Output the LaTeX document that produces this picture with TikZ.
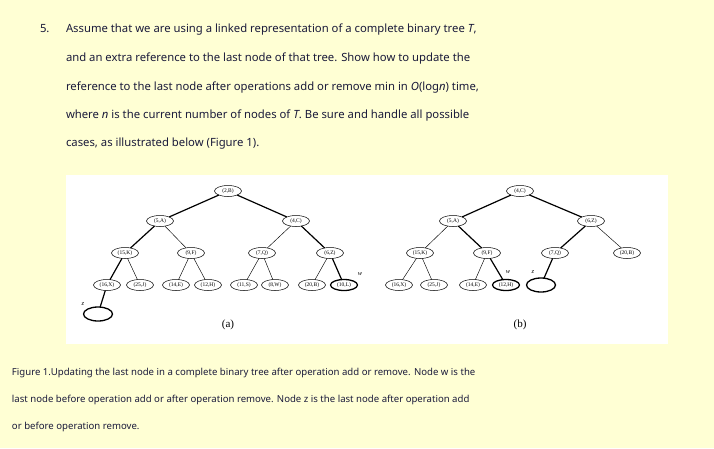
\documentclass[tikz,border=0pt]{standalone}
\usepackage{fontspec}
\setmainfont{Noto Sans}
\newfontfamily\treefont{Liberation Serif}
\usetikzlibrary{positioning,shapes.geometric}
\definecolor{pagebg}{HTML}{FFFFD4}
\definecolor{ink}{HTML}{1A1A3A}

\begin{document}
\begin{tikzpicture}[x=1pt,y=-1pt,inner sep=0pt,outer sep=0pt]
    \tikzset{key/.style={draw,ellipse,line width=0.5pt,minimum width=27pt,minimum height=11pt,font=\treefont\fontsize{5.5}{6}\selectfont}}
    \tikzset{last/.style={key,line width=1.3pt}}
    \tikzset{hole/.style={draw,ellipse,line width=1.3pt,minimum width=29pt,minimum height=14pt}}
    \tikzset{edge/.style={line width=0.45pt}}
    \tikzset{trail/.style={line width=1.2pt}}
    \tikzset{tag/.style={font=\treefont\itshape\fontsize{6.5}{7}\selectfont}}
    \tikzset{para/.style={anchor=base west,text=ink,font=\fontsize{11.3}{13}\selectfont}}
    \tikzset{capt/.style={anchor=base west,text=ink,font=\bfseries\fontsize{9.6}{11}\selectfont}}

    \fill[pagebg] (0,0) rectangle (714,448);
    \fill[white] (66,175) rectangle (668,344);

    % question text
    \node [para] (num) at (40,32) {5.};
    \node [para] (l1) at (66,32) {Assume that we are using a linked representation of a complete binary tree \textit{T},};
    \node [para] (l2) at (66,61) {and an extra reference to the last node of that tree. Show how to update the};
    \node [para] (l3) at (66,90) {reference to the last node after operations add or remove min in \textit{O}(log\textit{n}) time,};
    \node [para] (l4) at (66,118) {where \textit{n} is the current number of nodes of \textit{T}. Be sure and handle all possible};
    \node [para] (l5) at (66,146) {cases, as illustrated below (Figure 1).};

    % tree (a)
    \node [key] (a2B) at (228,191) {(2,B)};
    \node [key] (a5A) at (160,221) {(5,A)};
    \node [key] (a4C) at (296,221) {(4,C)};
    \node [key] (a15K) at (125,253) {(15,K)};
    \node [key] (a9F) at (191,253) {(9,F)};
    \node [key] (a7Q) at (262,253) {(7,Q)};
    \node [key] (a6Z) at (330,253) {(6,Z)};
    \node [key] (a16X) at (107,285) {(16,X)};
    \node [key] (a25J) at (140,285) {(25,J)};
    \node [key] (a14E) at (176,285) {(14,E)};
    \node [key] (a12H) at (208,285) {(12,H)};
    \node [key] (a11S) at (244,285) {(11,S)};
    \node [key] (a8W) at (275,285) {(8,W)};
    \node [key] (a20B) at (312,285) {(20,B)};
    \node [last] (a10L) at (344,285) {(10,L)};
    \node [hole] (az) at (98,314) {};
    \node [tag] (aw) at (360,274) {w};
    \node [tag] (azl) at (83,304) {z};
    \node [font=\treefont\fontsize{11}{12}\selectfont] (acap) at (228,325) {(a)};

    \draw [trail] (a2B) -- (a5A);
    \draw [trail] (a2B) -- (a4C);
    \draw [trail] (a5A) -- (a15K);
    \draw [edge] (a5A) -- (a9F);
    \draw [edge] (a4C) -- (a7Q);
    \draw [trail] (a4C) -- (a6Z);
    \draw [trail] (a15K) -- (a16X);
    \draw [edge] (a15K) -- (a25J);
    \draw [edge] (a9F) -- (a14E);
    \draw [edge] (a9F) -- (a12H);
    \draw [edge] (a7Q) -- (a11S);
    \draw [edge] (a7Q) -- (a8W);
    \draw [edge] (a6Z) -- (a20B);
    \draw [trail] (a6Z) -- (a10L);
    \draw [trail] (a16X) -- (az);

    % tree (b)
    \node [key] (b4C) at (520,191) {(4,C)};
    \node [key] (b5A) at (453,221) {(5,A)};
    \node [key] (b6Z) at (591,221) {(6,Z)};
    \node [key] (b15K) at (420,253) {(15,K)};
    \node [key] (b9F) at (487,253) {(9,F)};
    \node [key] (b7Q) at (555,253) {(7,Q)};
    \node [key] (b20B) at (627,253) {(20,B)};
    \node [key] (b16X) at (399,285) {(16,X)};
    \node [key] (b25J) at (434,285) {(25,J)};
    \node [key] (b14E) at (473,285) {(14,E)};
    \node [last] (b12H) at (506,285) {(12,H)};
    \node [hole] (bz) at (541,285) {};
    \node [tag] (bw) at (508,272) {w};
    \node [tag] (bzl) at (533,272) {z};
    \node [font=\treefont\fontsize{11}{12}\selectfont] (bcap) at (520,325) {(b)};

    \draw [trail] (b4C) -- (b5A);
    \draw [trail] (b4C) -- (b6Z);
    \draw [edge] (b5A) -- (b15K);
    \draw [trail] (b5A) -- (b9F);
    \draw [trail] (b6Z) -- (b7Q);
    \draw [edge] (b6Z) -- (b20B);
    \draw [edge] (b15K) -- (b16X);
    \draw [edge] (b15K) -- (b25J);
    \draw [edge] (b9F) -- (b14E);
    \draw [trail] (b9F) -- (b12H);
    \draw [trail] (b7Q) -- (bz);

    % caption
    \node [capt] (c1) at (12,375) {Figure 1.Updating the last node in a complete binary tree after operation add or remove. Node w is the};
    \node [capt] (c2) at (12,402) {last node before operation add or after operation remove. Node z is the last node after operation add};
    \node [capt] (c3) at (12,429) {or before operation remove.};
\end{tikzpicture}
\end{document}
